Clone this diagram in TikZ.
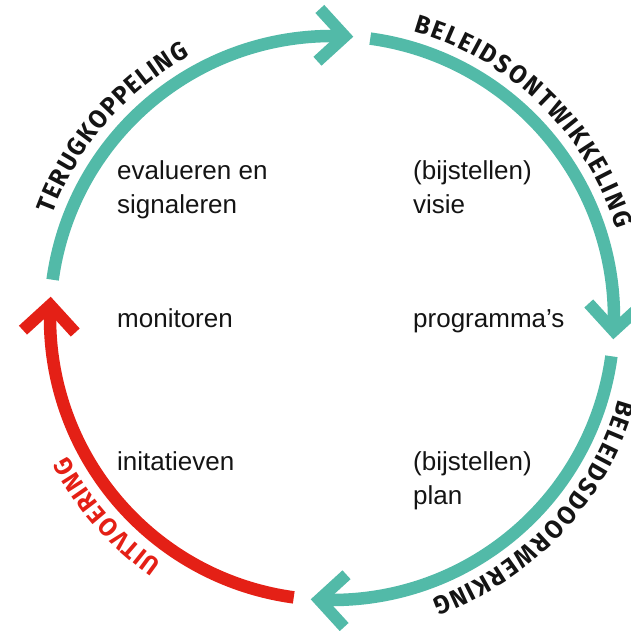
\documentclass[tikz,border=0pt]{standalone}
\usepackage{fontspec}
\setmainfont{Liberation Sans}
\newfontfamily\labfont[FakeStretch=0.95]{Fira Sans}
\usetikzlibrary{decorations.text}
\definecolor{teal1}{RGB}{82,186,168}
\definecolor{red1}{RGB}{228,32,22}
\definecolor{ink}{RGB}{20,20,20}
\tikzset{
  ring/.style={line width=12.5pt},
  head/.style={line width=12pt, line join=miter, line cap=butt},
  body/.style={font=\fontsize{26}{34}\selectfont, text=ink, anchor=base west, inner sep=0pt},
  arclabel/.style 2 args={decorate, decoration={text effects along path, text={#2},
     text effects/.cd, text along path, fit text to path,
     characters={font=\labfont\bfseries\fontsize{25.5}{26}\selectfont, text=#1, inner sep=0pt}}},
}
\begin{document}
\begin{tikzpicture}[x=1pt,y=1pt]
\useasboundingbox (-332,-313) rectangle (299,318);
\clip (-332,-313) rectangle (299,318);
\coordinate (c) at (0,0);
% arcs with chevron heads
\foreach \s/\e/\col in {172.2/87.4/teal1, 82.2/-2.6/teal1, -7.8/-92.6/teal1, 262.2/177.4/red1}{
  \coordinate (st) at (\s:282);
  \coordinate (tip) at (\e:282);
  \draw[ring, draw=\col] (st) arc[start angle=\s, end angle=\e, radius=282];
  \draw[head, draw=\col] (tip) ++(\e+45:37) -- (tip) -- ++(\e+135:37);
}
% labels along the ring
\path[arclabel={ink}{TERUGKOPPELING}]
  (159.6:298) arc[start angle=159.6, end angle=118.5, radius=298];
\path[arclabel={ink}{BELEIDSONTWIKKELING}]
  (74.1:298) arc[start angle=74.1, end angle=17.4, radius=298];
\path[arclabel={ink}{BELEIDSDOORWERKING}]
  (-15.8:298) arc[start angle=-15.8, end angle=-70.5, radius=298];
\path[arclabel={red1}{UITVOERING}]
  (235.1:298) arc[start angle=235.1, end angle=207.6, radius=298];
% inner texts
\node[body] (ev1) at (-215,138) {evalueren en};
\node[body] (ev2) at (-215,104) {signaleren};
\node[body] (vi1) at (81,138) {(bijstellen)};
\node[body] (vi2) at (81,104) {visie};
\node[body] (mon) at (-215,-10) {monitoren};
\node[body] (prg) at (81,-10) {programma’s};
\node[body] (ini) at (-215,-152) {initatieven};
\node[body] (pl1) at (81,-152) {(bijstellen)};
\node[body] (pl2) at (81,-186) {plan};
\end{tikzpicture}
\end{document}
